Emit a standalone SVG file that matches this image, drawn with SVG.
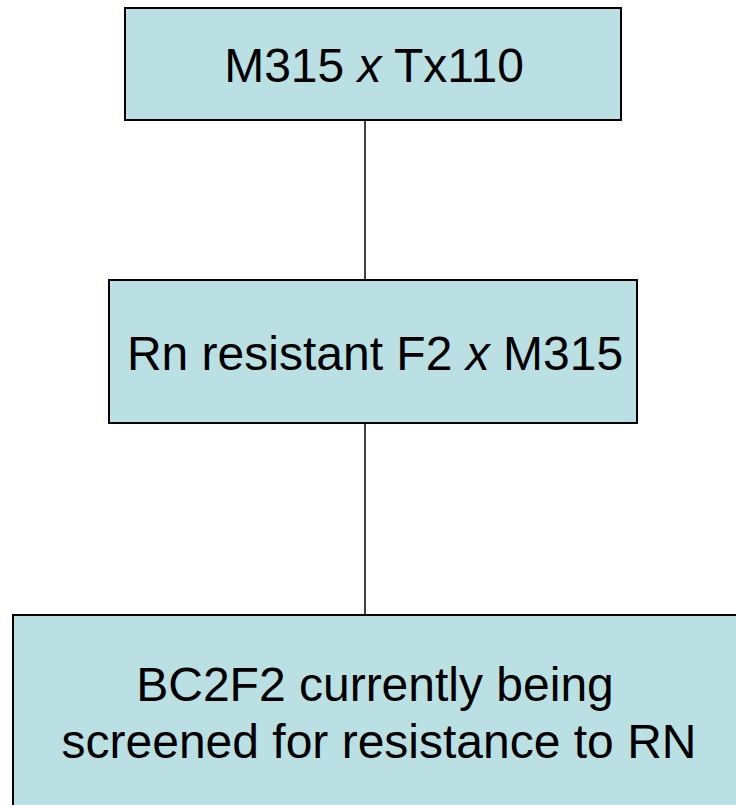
<svg xmlns="http://www.w3.org/2000/svg" width="736" height="805" viewBox="0 0 736 805">
<style>
.box{fill:#bbe0e3;stroke:#000;stroke-width:2}
.t{font-family:"Liberation Sans",Arial,sans-serif;font-size:48px;fill:#000;text-anchor:middle}
.c{stroke:#000;stroke-width:1.5;fill:none}
</style>
<rect width="736" height="805" fill="#fff"/>
<g id="connectors">
<line class="c" x1="365" y1="120" x2="365" y2="280"/>
<line class="c" x1="365" y1="423" x2="365" y2="615"/>
</g>
<g id="n1">
<rect class="box" x="125" y="8" width="496" height="112"/>
<text class="t" x="374" y="82">M315 <tspan font-style="italic">x</tspan> Tx110</text>
</g>
<g id="n2">
<rect class="box" x="109" y="280" width="528" height="143"/>
<text class="t" x="375" y="370">Rn resistant F2 <tspan font-style="italic">x</tspan> M315</text>
</g>
<g id="n3">
<rect class="box" x="13" y="615" width="730" height="200"/>
<text class="t" x="375" y="701">BC2F2 currently being</text>
<text class="t" x="379" y="758">screened for resistance to RN</text>
</g>
</svg>
